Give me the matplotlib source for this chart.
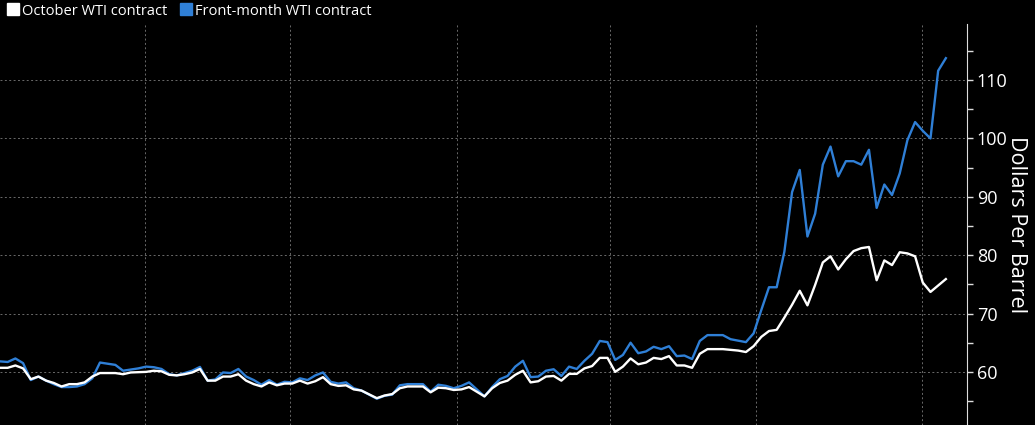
import matplotlib
matplotlib.use('Agg')
import matplotlib.pyplot as plt
from matplotlib.lines import Line2D
from matplotlib.ticker import MultipleLocator

# trading-day index and prices
oct_days = [0, 1, 2, 3, 4, 5, 6, 7, 8, 9, 10, 11, 12, 13, 15, 16, 17, 19, 20, 21,
            22, 23, 24, 25, 26, 27, 28, 29, 30, 31, 32, 33, 34, 35, 36, 37, 38, 39, 40, 41,
            42, 43, 44, 45, 46, 47, 49, 50, 51, 52, 53, 55, 56, 57, 58, 59, 60, 61, 62, 63,
            64, 65, 66, 67, 68, 69, 70, 71, 72, 73, 74, 75, 76, 77, 78, 79, 80, 81, 82, 83,
            84, 85, 86, 87, 88, 89, 90, 91, 92, 94, 96, 97, 98, 99, 100, 101, 102, 103, 104, 105,
            106, 107, 108, 109, 110, 111, 112, 113, 114, 115, 116, 117, 118, 119, 120, 121, 122, 123]
oct_price = [60.7, 60.7, 61.1, 60.6, 58.75, 59.2, 58.5, 58.1, 57.5, 57.9, 57.9, 58.2, 59.2, 59.8, 59.8, 59.6, 59.9, 60.0, 60.2, 60.1,
             59.5, 59.4, 59.6, 59.9, 60.5, 58.5, 58.5, 59.2, 59.2, 59.6, 58.5, 57.9, 57.5, 58.2, 57.7, 58.0, 58.0, 58.5, 58.0, 58.4,
             59.1, 57.9, 57.6, 57.7, 57.0, 56.8, 55.5, 55.95, 56.2, 57.2, 57.5, 57.5, 56.5, 57.3, 57.2, 56.9, 57.0, 57.4, 56.6, 55.8,
             57.2, 58.1, 58.5, 59.5, 60.2, 58.2, 58.4, 59.2, 59.3, 58.5, 59.66, 59.66, 60.6, 61.0, 62.4, 62.4, 60.0, 60.9, 62.3, 61.3,
             61.6, 62.4, 62.2, 62.7, 61.1, 61.1, 60.7, 63.1, 63.9, 63.9, 63.65, 63.4, 64.4, 66.0, 67.0, 67.2, 69.3, 71.5, 73.9, 71.4,
             74.9, 78.75, 79.8, 77.55, 79.3, 80.7, 81.2, 81.4, 75.7, 79.1, 78.3, 80.5, 80.3, 79.8, 75.3, 73.7, 74.8, 75.9]

front_days = [0, 1, 2, 3, 4, 5, 6, 7, 8, 9, 10, 11, 12, 13, 14, 15, 16, 17, 18, 19,
              20, 21, 22, 23, 24, 25, 26, 27, 28, 29, 30, 31, 32, 33, 34, 35, 36, 37, 38, 39,
              40, 41, 42, 43, 44, 45, 46, 47, 49, 50, 51, 52, 53, 55, 56, 57, 58, 59, 60, 61,
              62, 63, 64, 65, 66, 67, 68, 69, 70, 71, 72, 73, 74, 75, 76, 77, 78, 79, 80, 81,
              82, 83, 84, 85, 86, 87, 88, 89, 90, 91, 92, 94, 95, 96, 97, 98, 99, 100, 101, 102,
              103, 104, 105, 106, 107, 108, 109, 110, 111, 112, 113, 114, 115, 116, 117, 118, 119, 120, 121, 122,
              123]
front_price = [61.8, 61.7, 62.3, 61.5, 58.6, 59.2, 58.5, 57.9, 57.4, 57.4, 57.5, 57.9, 58.9, 61.6, 61.4, 61.2, 60.2, 60.4, 60.6, 60.9,
               60.8, 60.5, 59.6, 59.4, 59.8, 60.2, 60.85, 58.5, 58.7, 59.9, 59.8, 60.5, 59.2, 58.6, 57.8, 58.6, 57.8, 58.3, 58.2, 58.9,
               58.6, 59.4, 59.9, 58.3, 58.0, 58.2, 57.2, 56.8, 55.4, 55.9, 56.1, 57.7, 57.9, 57.9, 56.6, 57.8, 57.6, 57.2, 57.6, 58.2,
               57.0, 55.8, 57.4, 58.75, 59.3, 60.9, 61.9, 59.1, 59.2, 60.2, 60.45, 59.3, 60.9, 60.5, 61.9, 63.1, 65.3, 65.1, 62.05, 62.9,
               65.0, 63.2, 63.5, 64.3, 63.9, 64.4, 62.7, 62.8, 62.2, 65.3, 66.3, 66.3, 65.6, 65.35, 65.1, 66.6, 70.6, 74.5, 74.5, 80.6,
               90.8, 94.6, 83.2, 87.1, 95.5, 98.6, 93.5, 96.1, 96.1, 95.5, 98.05, 88.1, 92.1, 90.3, 94.0, 99.7, 102.8, 101.3, 100.0, 111.6,
               113.75]

month_lines = [18.9, 37.7, 59.4, 79.3, 98.3, 119.9]
y_ticks = [60, 70, 80, 90, 100, 110]
labels = ['October WTI contract', 'Front-month WTI contract']

blue = '#2f7fd6'
plt.rcParams['font.family'] = ['Open Sans', 'DejaVu Sans']

fig = plt.figure(figsize=(10.35, 4.25), dpi=100, facecolor='black')
ax = fig.add_axes([0, 0, 0.9343, 0.9435], facecolor='black')

ax.plot(front_days, front_price, color=blue, lw=1.7, zorder=3)
ax.plot(oct_days, oct_price, color='white', lw=1.7, zorder=4)

ax.set_xlim(0, 125.75)
ax.set_ylim(50.9, 119.6)

ax.yaxis.tick_right()
ax.set_yticks(y_ticks)
ax.yaxis.set_minor_locator(MultipleLocator(5))
ax.tick_params(axis='y', which='both', colors='#dddddd', labelcolor='white',
               direction='out', length=4, width=1, labelsize=13, pad=3)
ax.set_xticks(month_lines)
ax.tick_params(axis='x', length=0, labelbottom=False)

ax.grid(True, axis='both', color='#6a6a6a', linestyle=(0, (2, 2.5)), lw=0.7)

for s in ['top', 'left', 'bottom']:
    ax.spines[s].set_visible(False)
ax.spines['right'].set_color('#dddddd')

ax.yaxis.set_label_position('right')
ax.set_ylabel('Dollars Per Barrel', rotation=-90, color='white', fontsize=15.5, labelpad=14)

handles = [Line2D([], [], marker='s', linestyle='None', markersize=8.5, color='white'),
           Line2D([], [], marker='s', linestyle='None', markersize=8.5, color=blue)]
fig.legend(handles, labels, loc='upper left', bbox_to_anchor=(0.006, 0.995), frameon=False,
           ncol=2, handlelength=0.7, handletextpad=0.25, columnspacing=1.0,
           fontsize=10.5, labelcolor='white', borderaxespad=0, borderpad=0.1)

fig.savefig('out.png', dpi=100, facecolor='black')
